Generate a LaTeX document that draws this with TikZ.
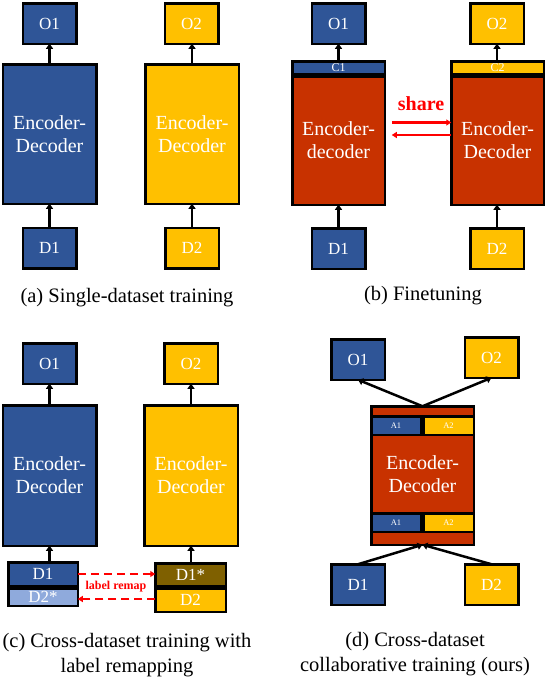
\documentclass[tikz,border=0pt]{standalone}
\usepackage{fontspec}
\setmainfont{Liberation Serif}
\usetikzlibrary{arrows.meta,calc}
\definecolor{cblue}{HTML}{2F5597}
\definecolor{cyel}{HTML}{FFC000}
\definecolor{cred}{HTML}{C83200}
\definecolor{clblue}{HTML}{8FAADC}
\definecolor{cbrown}{HTML}{7F6000}
\definecolor{carrred}{HTML}{FF0000}
\begin{document}
\begin{tikzpicture}[x=1pt,y=-1pt,
  box/.style={draw=black, line width=2.5pt, inner sep=0pt, outer sep=0pt, text=white, font=\fontsize{17}{20}\selectfont},
  sbox/.style={box, minimum width=53.5pt, minimum height=40.5pt},
  enc/.style={box, align=center, font=\fontsize{20}{23}\selectfont, minimum width=93.5pt, minimum height=139.5pt},
  arr/.style={line width=2.5pt, -{Triangle[length=5pt,width=7pt]}},
  rarr/.style={carrred, line width=2.5pt, -{Triangle[length=5pt,width=6pt]}},
  rdarr/.style={rarr, dash pattern=on 8pt off 5pt},
  captext/.style={font=\fontsize{20.5}{25}\selectfont, align=center, inner sep=0pt}
]
\useasboundingbox (0,0) rectangle (546,680);

% ---------- (a)
\node[sbox, fill=cblue] (aO1) at (49.5,23.5) {O1};
\node[enc, fill=cblue] (aE1) at (49.5,134) {Encoder-\\Decoder};
\node[sbox, fill=cblue] (aD1) at (49.5,248) {D1};
\node[sbox, fill=cyel] (aO2) at (191.5,23.5) {O2};
\node[enc, fill=cyel] (aE2) at (192,134) {Encoder-\\Decoder};
\node[sbox, fill=cyel] (aD2) at (192,248) {D2};
\draw[arr] (aE1.north) -- (aO1.south);
\draw[arr] (aD1.north) -- (aE1.south);
\draw[arr] (aE2.north) -- (aE2.north |- aO2.south);
\draw[arr] (aD2.north) -- (aE2.south);
\node[captext] (capa) at (127,298) {(a) Single-dataset training};

% ---------- (b)
\node[sbox, fill=cblue] (bO1) at (338.5,23.5) {O1};
\node[box, fill=cblue, minimum width=92.5pt, minimum height=12.5pt, font=\fontsize{12}{12}\selectfont] (bC1) at (338.5,67.5) {C1};
\node[enc, fill=cred, minimum width=92.5pt, minimum height=128.5pt] (bE1) at (338.5,140.5) {Encoder-\\decoder};
\node[sbox, fill=cblue] (bD1) at (338.5,248.5) {D1};
\node[sbox, fill=cyel] (bO2) at (497,23.5) {O2};
\node[box, fill=cyel, minimum width=92.5pt, minimum height=12.5pt, font=\fontsize{12}{12}\selectfont] (bC2) at (497.5,67.5) {C2};
\node[enc, fill=cred, minimum width=92.5pt, minimum height=128.5pt] (bE2) at (497.5,140.5) {Encoder-\\Decoder};
\node[sbox, fill=cyel] (bD2) at (497,248.5) {D2};
\draw[arr] (bC1.north) -- (bO1.south);
\draw[arr] (bD1.north) -- (bE1.south);
\draw[arr] (bC2.north -| bO2.south) -- (bO2.south);
\draw[arr] (bD2.north) -- (bD2.north |- bE2.south);
\node[text=carrred, font=\bfseries\fontsize{20}{20}\selectfont, inner sep=0pt] (share) at (421,104) {share};
\draw[rarr] ($(bE1.east)+(7,-18)$) -- ($(bE2.west)+(0,-18)$);
\draw[rarr] ($(bE2.west)+(0,-5.5)$) -- ($(bE1.east)+(7,-5.5)$);
\node[captext] (capb) at (423,296) {(b) Finetuning};

% ---------- (c)
\node[sbox, fill=cblue] (cO1) at (49.5,363.5) {O1};
\node[enc, fill=cblue, minimum height=140.5pt] (cE1) at (49.5,475.5) {Encoder-\\Decoder};
\node[box, fill=cblue, minimum width=69.5pt, minimum height=23.5pt] (cS1a) at (43,574) {D1};
\node[box, fill=clblue, minimum width=69.5pt, minimum height=17.5pt] (cS1b) at (43,597) {D2*};
\node[sbox, fill=cyel] (cO2) at (191,363.5) {O2};
\node[enc, fill=cyel, minimum height=140.5pt] (cE2) at (191,475.5) {Encoder-\\Decoder};
\node[box, fill=cbrown, minimum width=70.5pt, minimum height=22.5pt] (cS2a) at (190.5,574.5) {D1*};
\node[box, fill=cyel, minimum width=70.5pt, minimum height=23.5pt] (cS2b) at (190.5,600) {D2};
\draw[arr] (cE1.north) -- (cO1.south);
\draw[arr] (cE1.south |- cS1a.north) -- (cE1.south);
\draw[arr] (cE2.north) -- (cO2.south);
\draw[arr] (cE2.south |- cS2a.north) -- (cE2.south);
\draw[rdarr] (cS1a.east) -- (cS1a.east -| cS2a.west);
\draw[rdarr] ($(cS2b.west)+(0,-1)$) -- ($(cS2b.west -| cS1b.east)+(0,-1)$);
\node[text=carrred, font=\bfseries\fontsize{12}{12}\selectfont, inner sep=0pt] (remap) at (116,587) {label remap};
\node[captext] (capc) at (127,655.5) {(c) Cross-dataset training with\\label remapping};

% ---------- (d)
\node[sbox, fill=cblue] (dO1) at (358,359.5) {O1};
\node[sbox, fill=cyel] (dO2) at (491.5,357.5) {O2};
\node[box, fill=cred, minimum width=102.5pt, minimum height=138.5pt] (dE) at (422.5,475.5) {};
\node[box, fill=cblue, minimum width=49.5pt, minimum height=18.5pt, font=\fontsize{8.5}{9}\selectfont] (dA1t) at (396,425.5) {A1};
\node[box, fill=cyel, minimum width=50.5pt, minimum height=18.5pt, font=\fontsize{8.5}{9}\selectfont] (dA2t) at (448.5,425.5) {A2};
\node[box, fill=cblue, minimum width=49.5pt, minimum height=18.5pt, font=\fontsize{8.5}{9}\selectfont] (dA1b) at (396,522.5) {A1};
\node[box, fill=cyel, minimum width=50.5pt, minimum height=18.5pt, font=\fontsize{8.5}{9}\selectfont] (dA2b) at (448.5,522.5) {A2};
\node[text=white, align=center, font=\fontsize{20}{23}\selectfont, inner sep=0pt] (dT) at (422.5,474) {Encoder-\\Decoder};
\node[sbox, fill=cblue] (dD1) at (358,584.5) {D1};
\node[sbox, fill=cyel] (dD2) at (491.5,584.5) {D2};
\draw[arr] (dE.north) -- (dO1.south);
\draw[arr] (dE.north) -- (dO2.south);
\draw[arr] (dD1.north) -- (dE.south);
\draw[arr] (dD2.north) -- (dE.south);
\node[captext] (capd) at (415,654) {(d) Cross-dataset\\collaborative training (ours)};
\end{tikzpicture}
\end{document}
